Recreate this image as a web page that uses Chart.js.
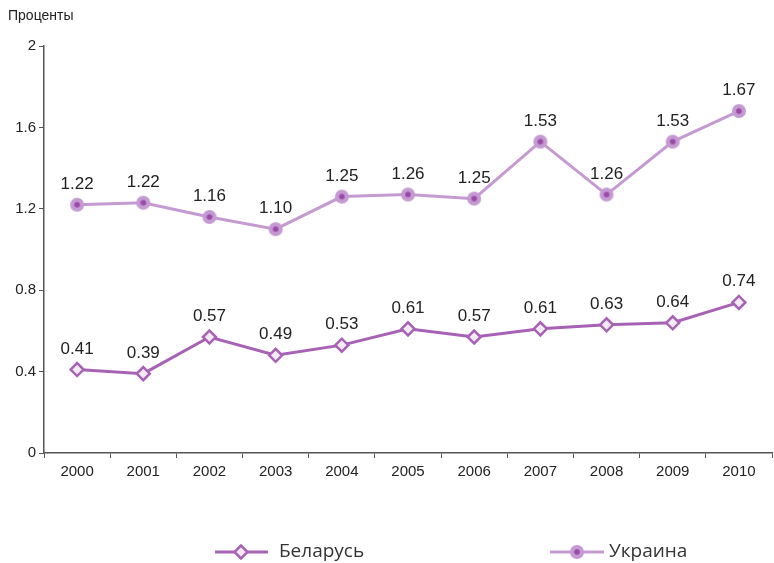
<!DOCTYPE html>
<html>
<head>
<meta charset="utf-8">
<script src="https://cdn.jsdelivr.net/npm/chart.js@4"></script>
<style>
  html, body { margin: 0; padding: 0; background: #fff; overflow: hidden; }
  #wrap { position: relative; width: 774px; height: 563px; overflow: hidden; }
  #chart { display: block; }
  #unit { position: absolute; left: 8px; top: 7px; font: 14px "Liberation Sans", Arial, sans-serif; color: #222; }
</style>
</head>
<body>
<div id="wrap">
  <div id="unit">Проценты</div>
  <!-- a bit wider than the window: the line overflow padding would otherwise cut the axis short -->
  <canvas id="chart" width="781" height="563"></canvas>
</div>
<script>
// data
const years = ["2000","2001","2002","2003","2004","2005","2006","2007","2008","2009","2010"];
const belarus = [0.41, 0.39, 0.57, 0.48, 0.53, 0.61, 0.57, 0.61, 0.63, 0.64, 0.74];
const belarusLabels = ["0.41","0.39","0.57","0.49","0.53","0.61","0.57","0.61","0.63","0.64","0.74"];
const ukraine = [1.22, 1.23, 1.16, 1.10, 1.26, 1.27, 1.25, 1.53, 1.27, 1.53, 1.68];
const ukraineLabels = ["1.22","1.22","1.16","1.10","1.25","1.26","1.25","1.53","1.26","1.53","1.67"];
const seriesNames = ["Беларусь", "Украина"];

const BEL = "#a862b5";
const UKR = "#c59ad2";
const FONT = "'Liberation Sans', Arial, sans-serif";

// ukraine marker: light disc with dark dot
function dotMarker() {
  const c = document.createElement("canvas");
  c.width = 16; c.height = 16;
  const g = c.getContext("2d");
  g.fillStyle = UKR;
  g.beginPath(); g.arc(8, 8, 7, 0, Math.PI * 2); g.fill();
  g.fillStyle = "#9a4aa8";
  g.beginPath(); g.arc(8, 8, 2.8, 0, Math.PI * 2); g.fill();
  return c;
}
const ukrMarker = dotMarker();

function drawDiamond(g, x, y, r) {
  g.save();
  g.fillStyle = "#f4eaf5";
  g.strokeStyle = BEL;
  g.lineWidth = 2.5;
  g.beginPath();
  g.moveTo(x, y - r); g.lineTo(x + r, y); g.lineTo(x, y + r); g.lineTo(x - r, y);
  g.closePath(); g.fill(); g.stroke();
  g.restore();
}

const valueLabels = {
  id: "valueLabels",
  afterDatasetsDraw(chart) {
    const g = chart.ctx;
    const texts = [belarusLabels, ukraineLabels];
    g.save();
    g.font = "17px " + FONT;
    g.fillStyle = "#222";
    g.textAlign = "center";
    g.textBaseline = "alphabetic";
    chart.data.datasets.forEach((ds, i) => {
      chart.getDatasetMeta(i).data.forEach((pt, j) => {
        g.fillText(texts[i][j], pt.x, pt.y - 16);
      });
    });
    g.restore();
  }
};

const legendBottom = {
  id: "legendBottom",
  afterDraw(chart) {
    const g = chart.ctx;
    const y = 552;
    g.save();
    g.lineWidth = 3;
    // Беларусь
    g.strokeStyle = BEL;
    g.beginPath(); g.moveTo(215, y); g.lineTo(268, y); g.stroke();
    drawDiamond(g, 241, y, 6.5);
    // Украина
    g.strokeStyle = UKR;
    g.beginPath(); g.moveTo(550, y); g.lineTo(604, y); g.stroke();
    g.drawImage(ukrMarker, 577 - 8, y - 8);
    g.font = "19px 'Open Sans', sans-serif";
    g.fillStyle = "#333";
    g.textBaseline = "middle";
    g.fillText(seriesNames[0], 279, y);
    g.fillText(seriesNames[1], 609, y);
    g.restore();
  }
};

new Chart(document.getElementById("chart"), {
  type: "line",
  data: {
    labels: years,
    datasets: [
      {
        label: seriesNames[0],
        data: belarus,
        borderColor: BEL,
        backgroundColor: "#f4eaf5",
        borderWidth: 3,
        pointStyle: "rectRot",
        pointRadius: 6.5,
        pointBorderWidth: 2.5,
        pointBorderColor: BEL,
        pointBackgroundColor: "#f4eaf5",
        tension: 0
      },
      {
        label: seriesNames[1],
        data: ukraine,
        borderColor: UKR,
        borderWidth: 3,
        pointStyle: ukrMarker,
        tension: 0
      }
    ]
  },
  options: {
    responsive: false,
    animation: false,
    events: [],
    layout: { padding: { left: 0, top: 46, right: 2, bottom: 70 } },
    plugins: { legend: { display: false }, tooltip: { enabled: false } },
    scales: {
      x: {
        offset: true,
        grid: { display: true, drawOnChartArea: false, tickLength: 5, color: "#555", offset: true },
        border: { color: "#555", width: 1.5 },
        ticks: { color: "#222", font: { size: 15, family: FONT }, padding: 5 },
        afterFit: s => { s.height = 40; s.paddingLeft = 0; s.paddingRight = 0; }
      },
      y: {
        min: 0, max: 2,
        grid: { display: true, drawOnChartArea: false, tickLength: 5, color: "#555" },
        border: { color: "#555", width: 1.5 },
        ticks: {
          stepSize: 0.4, color: "#222", font: { size: 15, family: FONT }, padding: 3,
          callback: v => String(+v.toFixed(1))
        },
        afterFit: s => { s.width = 44; s.paddingTop = 0; s.paddingBottom = 0; }
      }
    }
  },
  plugins: [valueLabels, legendBottom]
});
</script>
</body>
</html>
